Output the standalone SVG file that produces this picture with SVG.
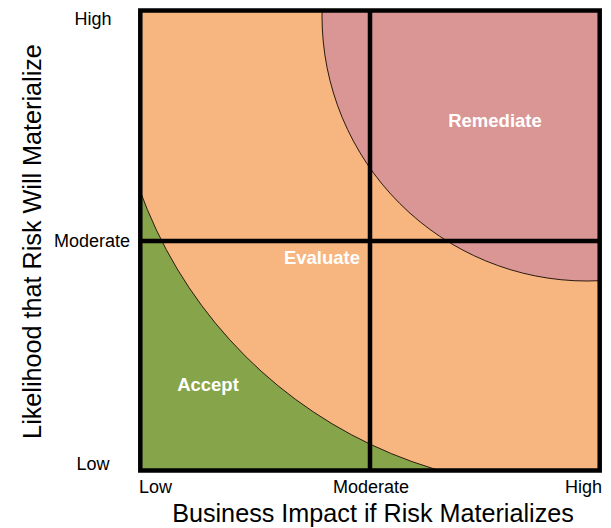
<svg xmlns="http://www.w3.org/2000/svg" width="611" height="528" viewBox="0 0 611 528">
  <style>
    .tick { font-family: "Liberation Sans", Arial, sans-serif; font-size: 18px; fill: #000; }
    .title { font-family: "Liberation Sans", Arial, sans-serif; font-size: 25.2px; fill: #000; }
    .zone { font-family: "Liberation Sans", Arial, sans-serif; font-size: 18.5px; font-weight: bold; fill: #fff; text-anchor: middle; }
    .edge { stroke: #2a1a10; stroke-width: 1; }
    .grid { stroke: #000; stroke-width: 4.5; fill: none; }
  </style>
  <defs>
    <clipPath id="plot">
      <rect x="140.3" y="10.5" width="459.4" height="460"/>
    </clipPath>
  </defs>
  <rect width="611" height="528" fill="#fff"/>
  <g id="regions" clip-path="url(#plot)">
    <g id="accept-zone"><rect x="140.3" y="10.5" width="459.4" height="460" fill="#86A44A"/></g>
    <g id="evaluate-zone"><circle cx="564" cy="37" r="451" fill="#F7B57F" class="edge"/></g>
    <g id="remediate-zone"><circle cx="587" cy="16" r="265" fill="#D99694" class="edge"/></g>
  </g>
  <g id="grid">
    <line class="grid" x1="370" y1="10.5" x2="370" y2="470.5"/>
    <line class="grid" x1="140.3" y1="241" x2="599.7" y2="241"/>
    <rect class="grid" x="140.3" y="10.5" width="459.4" height="460"/>
  </g>
  <g id="zone-labels">
    <text class="zone" x="495" y="127">Remediate</text>
    <text class="zone" x="322" y="264">Evaluate</text>
    <text class="zone" x="208" y="391">Accept</text>
  </g>
  <g id="y-ticks">
    <text class="tick" x="93" y="25" text-anchor="middle">High</text>
    <text class="tick" x="92" y="247" text-anchor="middle">Moderate</text>
    <text class="tick" x="93" y="470" text-anchor="middle">Low</text>
  </g>
  <g id="x-ticks">
    <text class="tick" x="139" y="493" text-anchor="start">Low</text>
    <text class="tick" x="371" y="493" text-anchor="middle">Moderate</text>
    <text class="tick" x="602" y="493" text-anchor="end">High</text>
  </g>
  <g id="axis-titles">
    <text class="title" x="373" y="522" text-anchor="middle">Business Impact if Risk Materializes</text>
    <text class="title" x="0" y="0" text-anchor="middle" transform="translate(40.5,241.5) rotate(-90)">Likelihood that Risk Will Materialize</text>
  </g>
</svg>
